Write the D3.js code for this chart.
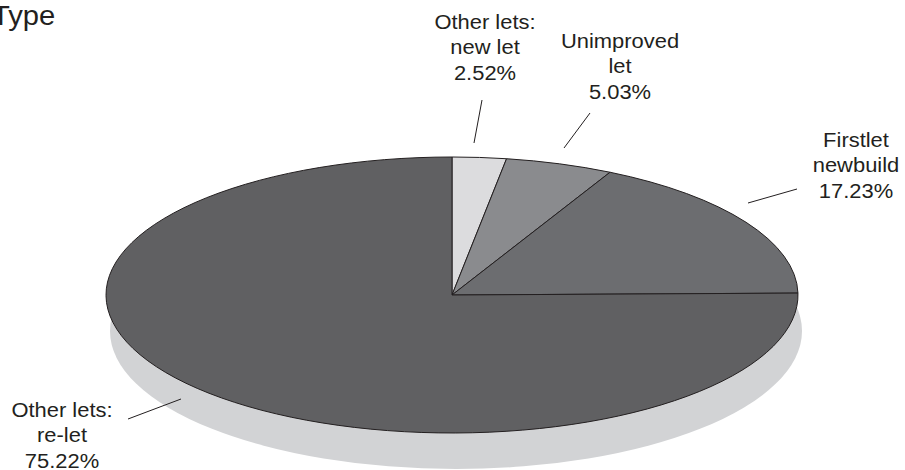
<!DOCTYPE html>
<html>
<head>
<meta charset="utf-8">
<script src="https://cdn.jsdelivr.net/npm/d3@7"></script>
<style>
  html, body { margin: 0; padding: 0; background: #fff; }
  svg { display: block; }
  text { font-family: "Liberation Sans", Arial, sans-serif; fill: #231f20; }
</style>
</head>
<body>
<svg id="chart" width="905" height="470"></svg>
<script>
// Letting types, share of lets (%)
const categories = ["Other lets: new let", "Unimproved let", "Firstlet newbuild", "Other lets: re-let"];
const labelLines = [["Other lets:", "new let"], ["Unimproved", "let"], ["Firstlet", "newbuild"], ["Other lets:", "re-let"]];
const shares = [2.52, 5.03, 17.23, 75.22];
const sliceColors = ["#dcdcde", "#8a8b8e", "#6c6d70", "#606062"];

// Layout
const W = 905, H = 470;
const cx = 452, cy = 295, rx = 346, ry = 138;
const shadowDx = 4, shadowDy = 36;
const labelPos = [
  { x: 485, y: 29, from: [482, 100], to: [474, 143] },
  { x: 620, y: 48, from: [590, 113], to: [564, 148] },
  { x: 856, y: 147, from: [797, 189], to: [748, 203] },
  { x: 62, y: 417, from: [128, 419], to: [181, 399] }
];
const lineGap = 25.5;

const svg = d3.select("#chart");

svg.append("text")
  .attr("transform", "translate(-8,25) scale(1.08,1)")
  .style("font-size", "27px")
  .text("Type");

const data = categories.map((c, i) => ({ name: c, value: shares[i], color: sliceColors[i], lines: labelLines[i], pos: labelPos[i] }));

const pie = d3.pie().sort(null).value(d => d.value);
const arcs = pie(data);
const arc = d3.arc().innerRadius(0).outerRadius(rx);

// flat shadow under the disc
svg.append("ellipse")
  .attr("cx", cx + shadowDx).attr("cy", cy + shadowDy)
  .attr("rx", rx).attr("ry", ry)
  .attr("fill", "#d2d3d5");

// slices drawn on a circle, squashed vertically into an ellipse
const disc = svg.append("g")
  .attr("transform", `translate(${cx},${cy}) scale(1,${ry / rx})`);

disc.selectAll("path")
  .data(arcs)
  .join("path")
  .attr("d", arc)
  .attr("fill", d => d.data.color)
  .attr("stroke", "#231f20")
  .attr("stroke-width", 1)
  .attr("vector-effect", "non-scaling-stroke");

// leader lines
svg.selectAll("line.leader")
  .data(data)
  .join("line")
  .attr("class", "leader")
  .attr("x1", d => d.pos.from[0]).attr("y1", d => d.pos.from[1])
  .attr("x2", d => d.pos.to[0]).attr("y2", d => d.pos.to[1])
  .attr("stroke", "#231f20")
  .attr("stroke-width", 1);

// labels
const fmt = v => v.toFixed(2) + "%";
const labels = svg.selectAll("g.label")
  .data(data)
  .join("g")
  .attr("class", "label")
  .attr("transform", d => `translate(${d.pos.x},${d.pos.y}) scale(1.07,1)`);

labels.each(function (d) {
  const g = d3.select(this);
  const rows = d.lines.concat([fmt(d.value)]);
  g.selectAll("text")
    .data(rows)
    .join("text")
    .attr("x", 0)
    .attr("y", (r, i) => i * lineGap)
    .attr("text-anchor", "middle")
    .style("font-size", "20.5px")
    .text(r => r);
});
</script>
</body>
</html>
